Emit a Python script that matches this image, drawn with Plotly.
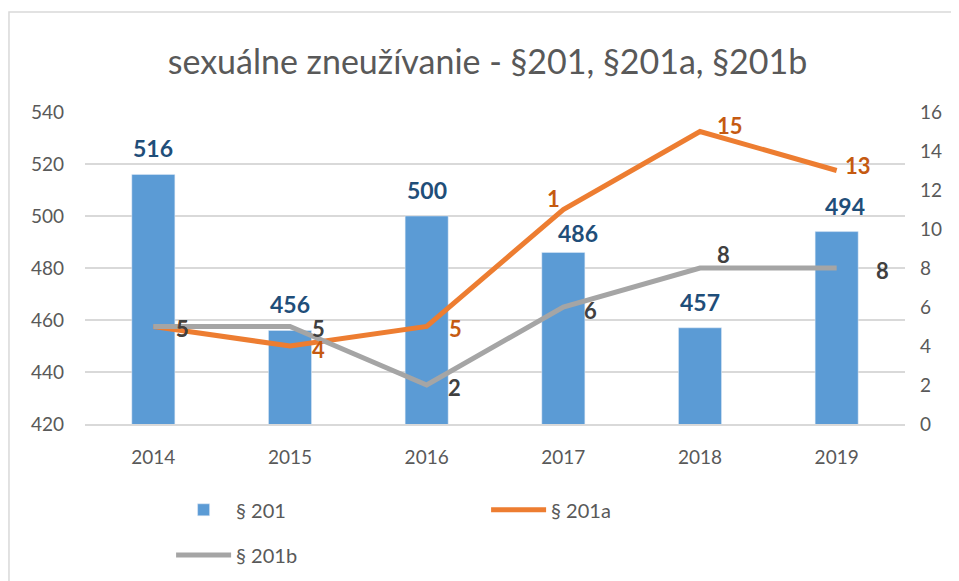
import plotly.graph_objects as go

years = ["2014", "2015", "2016", "2017", "2018", "2019"]
s201 = [516, 456, 500, 486, 457, 494]
s201a = [5, 4, 5, 11, 15, 13]
s201b = [5, 5, 2, 6, 8, 8]
s201_labels = ["516", "456", "500", "486", "457", "494"]
s201a_labels = ["5", "4", "5", "1", "15", "13"]
s201b_labels = ["5", "5", "2", "6", "8", "8"]

# label offsets in pixels (dx, dy up)
bar_off = [(0, 26), (0, 26), (0, 26), (15, 19), (0, 26), (8, 26)]
a_off = [(29, -2), (28, -3), (29, -2), (-10, 11), (30, 6), (21, 5)]
b_off = [(29, -2), (28, -2), (28, -2), (27, -3), (23, 14), (46, -2)]

FONT = "Lato"
GRID = "#D9D9D9"
TXT = "#595959"

fig = go.Figure()
fig.add_trace(go.Bar(x=years, y=s201, name="§ 201", marker_color="#5B9BD5", width=0.315))
fig.add_trace(go.Scatter(x=years, y=s201a, name="§ 201a", yaxis="y2", mode="lines",
                         line=dict(color="#ED7D31", width=5)))
fig.add_trace(go.Scatter(x=years, y=s201b, name="§ 201b", yaxis="y2", mode="lines",
                         line=dict(color="#A5A5A5", width=5), legend="legend2"))

# data labels (x given as category index)
for i in range(len(years)):
    fig.add_annotation(x=i, y=s201[i], yref="y", text=s201_labels[i], showarrow=False,
                       xshift=bar_off[i][0], yshift=bar_off[i][1],
                       font=dict(family=FONT, size=23, color="#1F4E79", weight="bold"))
for i in range(len(years)):
    fig.add_annotation(x=i, y=s201a[i], yref="y2", text=s201a_labels[i], showarrow=False,
                       xshift=a_off[i][0], yshift=a_off[i][1],
                       font=dict(family=FONT, size=22, color="#C55A11", weight="bold"))
for i in range(len(years)):
    fig.add_annotation(x=i, y=s201b[i], yref="y2", text=s201b_labels[i], showarrow=False,
                       xshift=b_off[i][0], yshift=b_off[i][1],
                       font=dict(family=FONT, size=22, color="#404040", weight="bold"))

# chart border
fig.add_shape(type="rect", xref="paper", yref="paper", x0=-0.0927, x1=1.1, y0=-0.7, y1=1.3205,
              line=dict(color=GRID, width=1.5), layer="below")

fig.update_layout(
    width=959, height=581,
    margin=dict(l=77, r=62, t=104, b=165),
    plot_bgcolor="white", paper_bgcolor="white",
    font=dict(family=FONT, color=TXT),
    title=dict(text="sexuálne zneužívanie - §201, §201a, §201b", x=0.5, xanchor="center",
               y=0.907, yanchor="middle", font=dict(family=FONT, size=34, color=TXT)),
    xaxis=dict(type="category", range=[-0.5, 5.5], showgrid=False, showline=True,
               linecolor=GRID, linewidth=1.5, ticks="", ticklabelstandoff=15,
               tickfont=dict(size=19, color=TXT)),
    yaxis=dict(range=[420, 540], dtick=20, showgrid=True, gridcolor=GRID, gridwidth=1.5,
               zeroline=False, ticks="", ticklabelstandoff=20, tickfont=dict(size=19, color=TXT)),
    yaxis2=dict(range=[0, 16], dtick=2, overlaying="y", side="right", showgrid=False,
                zeroline=False, ticks="", ticklabelstandoff=14, tickfont=dict(size=19, color=TXT)),
    showlegend=True,
    legend=dict(orientation="h", x=0.105, xanchor="left", y=-0.275, yanchor="middle",
                itemwidth=55, entrywidth=245, entrywidthmode="pixels",
                font=dict(size=20, color=TXT), traceorder="normal"),
    legend2=dict(orientation="h", x=0.105, xanchor="left", y=-0.42, yanchor="middle",
                 itemwidth=55, font=dict(size=20, color=TXT)),
    bargap=0.69,
)

fig.write_html("out.html")
